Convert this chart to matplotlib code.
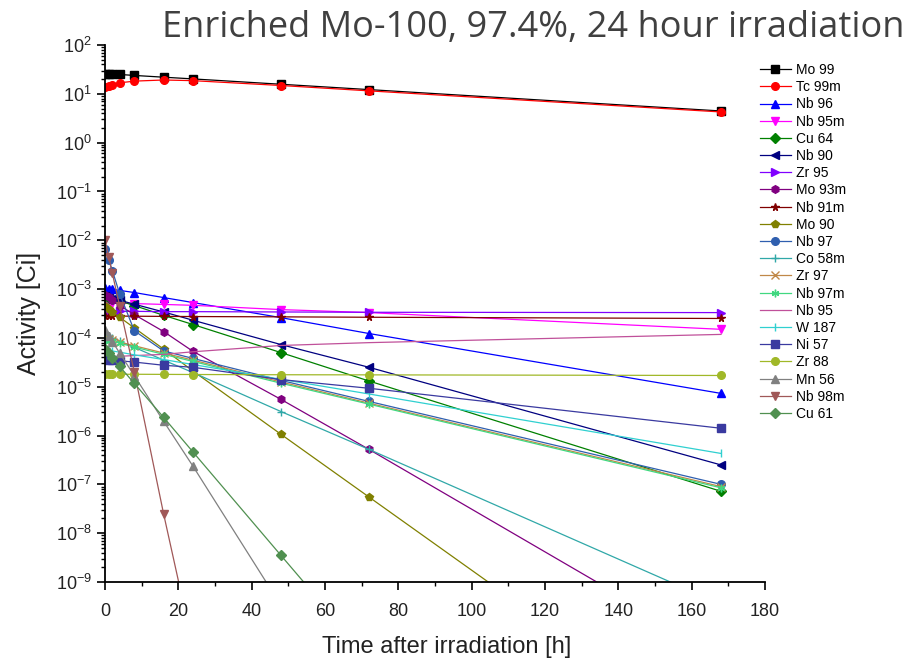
import numpy as np
import matplotlib
matplotlib.use('Agg')
import matplotlib.pyplot as plt
from matplotlib.ticker import LogLocator, MultipleLocator

plt.rcParams['font.family'] = ['Liberation Sans', 'DejaVu Sans']
plt.rcParams['mathtext.fontset'] = 'custom'
plt.rcParams['mathtext.rm'] = 'Liberation Sans'

# tempos de medida (h) depois da irradiação
t_h = [0, 1, 2, 4, 8, 16, 24, 48, 72, 168]

# atividades (Ci)
mo99 = [26, 25.7, 25.4, 24.9, 23.8, 21.9, 20.2, 15.7, 12.2, 4.45]
tc99m = [13.5, 14.5, 15.5, 16.8, 18.2, 19.2, 18.6, 14.8, 11.5, 4.25]
nb96 = [1.05e-3, 1.02e-3, 9.9e-4, 9.4e-4, 8.5e-4, 6.7e-4, 5.3e-4, 2.6e-4, 1.23e-4, 7.3e-6]
nb95m = [5.3e-4, 5.25e-4, 5.2e-4, 5.15e-4, 5.05e-4, 4.85e-4, 4.65e-4, 3.8e-4, 3.3e-4, 1.5e-4]
cu64 = [7.2e-4, 6.7e-4, 6.3e-4, 5.7e-4, 4.6e-4, 2.9e-4, 1.88e-4, 5.0e-5, 1.31e-5, 7.2e-8]
nb90 = [7.2e-4, 6.7e-4, 6.4e-4, 5.9e-4, 4.9e-4, 3.4e-4, 2.3e-4, 7.3e-5, 2.5e-5, 2.5e-7]
zr95 = [3.5e-4, 3.5e-4, 3.5e-4, 3.5e-4, 3.5e-4, 3.45e-4, 3.45e-4, 3.4e-4, 3.35e-4, 3.3e-4]
mo93m = [7.5e-4, 6.8e-4, 6.0e-4, 4.6e-4, 3.0e-4, 1.35e-4, 5.3e-5, 5.5e-6, 5.2e-7, 3.3e-11]
nb91m = [2.8e-4, 2.8e-4, 2.8e-4, 2.8e-4, 2.78e-4, 2.76e-4, 2.74e-4, 2.7e-4, 2.65e-4, 2.5e-4]
mo90 = [4.4e-4, 3.9e-4, 3.4e-4, 2.65e-4, 1.6e-4, 5.9e-5, 2.1e-5, 1.06e-6, 5.5e-8, 4e-13]
nb97 = [6.5e-3, 4.0e-3, 2.4e-3, 8.0e-4, 1.4e-4, 5.4e-5, 3.8e-5, 1.35e-5, 5.0e-6, 1.0e-7]
co58m = [1.15e-4, 1.07e-4, 1.0e-4, 8.6e-5, 6.4e-5, 3.5e-5, 1.95e-5, 3.1e-6, 5.2e-7, 3.5e-10]
zr97 = [9.7e-5, 9.3e-5, 9.0e-5, 8.2e-5, 6.9e-5, 4.9e-5, 3.5e-5, 1.25e-5, 4.6e-6, 9.0e-8]
nb97m = [9.2e-5, 8.8e-5, 8.5e-5, 7.8e-5, 6.5e-5, 4.6e-5, 3.3e-5, 1.18e-5, 4.4e-6, 8.5e-8]
nb95 = [4.0e-5, 4.05e-5, 4.1e-5, 4.2e-5, 4.35e-5, 4.6e-5, 5.2e-5, 7.0e-5, 8.0e-5, 1.18e-4]
w187 = [5.7e-5, 5.5e-5, 5.4e-5, 5.1e-5, 4.5e-5, 3.6e-5, 2.85e-5, 1.42e-5, 7.1e-6, 4.3e-7]
ni57 = [3.7e-5, 3.6e-5, 3.55e-5, 3.4e-5, 3.2e-5, 2.75e-5, 2.5e-5, 1.4e-5, 9.3e-6, 1.41e-6]
zr88 = [1.8e-5, 1.8e-5, 1.8e-5, 1.8e-5, 1.8e-5, 1.79e-5, 1.78e-5, 1.76e-5, 1.75e-5, 1.7e-5]
mn56 = [1.44e-4, 1.1e-4, 8.4e-5, 4.9e-5, 1.68e-5, 1.95e-6, 2.35e-7, 3.3e-10, 5e-13, 3e-24]
nb98m = [1.0e-2, 4.6e-3, 2.1e-3, 4.5e-4, 2.0e-5, 2.45e-8, 4.7e-11, 1e-19, 1e-27, 1e-60]
cu61 = [5.9e-5, 4.8e-5, 3.9e-5, 2.6e-5, 1.17e-5, 2.35e-6, 4.6e-7, 3.5e-9, 2.7e-11, 1e-19]

# (nome, dados, cor, marcador)
series = [
    ('Mo 99', mo99, '#000000', 's'),
    ('Tc 99m', tc99m, '#ff0000', 'o'),
    ('Nb 96', nb96, '#0000ff', '^'),
    ('Nb 95m', nb95m, '#ff00ff', 'v'),
    ('Cu 64', cu64, '#008000', 'D'),
    ('Nb 90', nb90, '#000080', '<'),
    ('Zr 95', zr95, '#8000ff', '>'),
    ('Mo 93m', mo93m, '#800080', 'h'),
    ('Nb 91m', nb91m, '#800000', '*'),
    ('Mo 90', mo90, '#808000', 'p'),
    ('Nb 97', nb97, '#2f5faf', 'o'),
    ('Co 58m', co58m, '#30a8a8', '+'),
    ('Zr 97', zr97, '#c08848', 'x'),
    ('Nb 97m', nb97m, '#40d880', (6, 2, 0)),
    ('Nb 95', nb95, '#c0509a', None),
    ('W 187', w187, '#30d0d0', '|'),
    ('Ni 57', ni57, '#3a3aa0', 's'),
    ('Zr 88', zr88, '#a0b828', 'o'),
    ('Mn 56', mn56, '#808080', '^'),
    ('Nb 98m', nb98m, '#a05858', 'v'),
    ('Cu 61', cu61, '#509050', 'D'),
]

fig = plt.figure(figsize=(9.15, 6.61), dpi=100)
ax = fig.add_axes([105 / 915, 1 - 582 / 661, 660 / 915, 537 / 661])

for nome, vals, cor, mk in series:
    ax.plot(t_h, vals, color=cor, marker=mk, markersize=5.5, linewidth=0.9,
            markeredgewidth=1.0, label=nome)

ax.set_yscale('log')
ax.set_xlim(0, 180)
ax.set_ylim(1e-9, 1e2)
ax.xaxis.set_major_locator(MultipleLocator(20))
ax.xaxis.set_minor_locator(MultipleLocator(10))
ax.yaxis.set_major_locator(LogLocator(base=10, numticks=20))
ax.yaxis.set_minor_locator(LogLocator(base=10, subs=np.arange(2, 10), numticks=200))

for lado in ['top', 'right']:
    ax.spines[lado].set_visible(False)
ax.spines['left'].set_linewidth(1.3)
ax.spines['bottom'].set_linewidth(1.3)
ax.tick_params(which='major', direction='out', length=6, width=1.2, labelsize=13,
               labelcolor='#222222')
ax.tick_params(axis='x', which='major', pad=9)
ax.tick_params(which='minor', direction='out', length=3, width=1.0)

ax.set_xlabel('Time after irradiation [h]', fontsize=17, color='#222222')
ax.set_ylabel('Activity [Ci]', fontsize=18, color='#222222')
ax.xaxis.set_label_coords(0.518, -0.10)
ax.yaxis.set_label_coords(-0.097, 0.5)

fig.text(905 / 915, 1 - 28 / 661, 'Enriched Mo-100, 97.4%, 24 hour irradiation',
         family=['Open Sans', 'DejaVu Sans'], fontsize=26, color='#404040',
         ha='right', va='center')

fig.legend(loc='upper left', bbox_to_anchor=(760 / 915, 1 - 63 / 661), frameon=False,
           fontsize=10, handlelength=2.2, labelspacing=0.23, handletextpad=0.4,
           borderaxespad=0, borderpad=0)

fig.savefig('out.png', dpi=100)
